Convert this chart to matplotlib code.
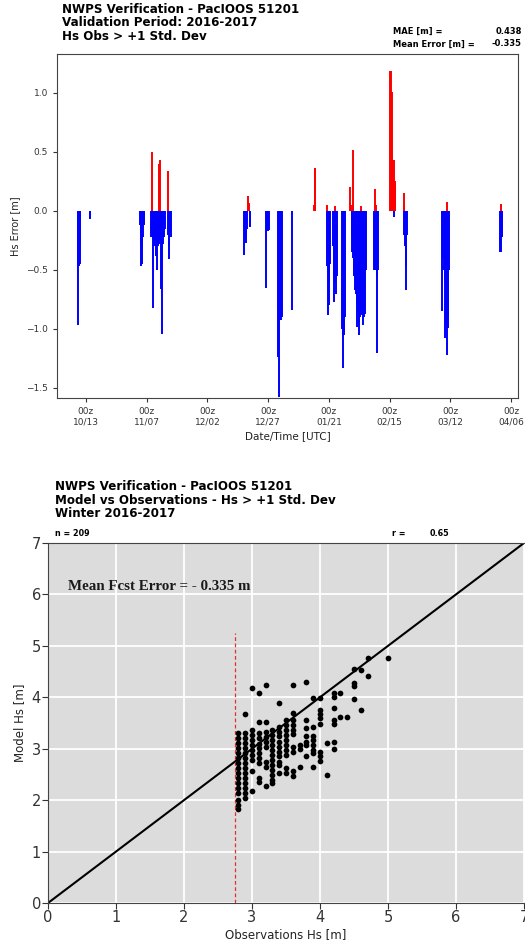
import datetime as dt
import matplotlib
matplotlib.use("Agg")
import matplotlib.pyplot as plt
import matplotlib.dates as mdates

# ---- top panel: Hs error time series (days after 2016-10-13 00z, error in m)
err_days = [
    -3.3, -3.1, -2.9, -2.7, -2.5, -2.3,
    1.5, 1.7,
    22.2, 22.5, 22.7, 22.9, 23.1, 23.4, 23.7, 24.0,
    27.0, 27.3, 30.2, 30.6, 33.9,
    26.8, 27.2, 27.6, 28.0, 28.4, 28.8, 29.1, 29.5, 29.9, 30.3, 30.9, 31.3,
    31.7, 32.1, 32.4, 33.7, 34.0, 34.3, 34.7, 35.0,
    65.1, 65.4, 65.7, 66.0, 66.3, 67.4, 67.7, 66.5, 66.8, 67.1,
    74.3, 74.6, 74.9, 75.2,
    79.1, 79.3, 79.6, 79.9, 80.2, 80.5,
    84.8,
    93.9, 94.2, 94.4,
    99.0, 99.2, 99.5, 99.7, 100.0, 100.2, 100.4,
    102.5, 101.6, 101.9, 102.2, 102.6, 102.8, 103.1, 103.4,
    105.3, 105.6, 105.8, 106.0, 106.3, 106.5,
    108.8, 109.0, 109.9, 110.1, 113.2,
    109.3, 109.6, 109.9, 110.2, 110.5, 110.8, 111.1, 111.4, 111.7, 112.0,
    112.3, 112.5, 112.8, 113.1, 113.4, 113.7, 113.9, 114.2, 114.5, 114.8, 115.1,
    119.1, 119.3, 118.6, 118.9, 119.2, 119.6, 119.9, 120.2,
    125.2, 125.5, 125.8, 126.1, 126.4, 126.7, 127.0, 127.3, 126.6,
    130.8, 131.0, 131.0, 131.3, 131.6, 131.8, 132.1,
    146.5, 146.8, 147.3, 147.6, 147.9, 148.2, 148.5, 148.8, 149.1, 149.4, 148.4,
    170.5, 170.8, 171.1, 171.4, 170.9,
]
err_vals = [
    -0.97, -0.47, -0.47, -0.46, -0.45, -0.30,
    -0.07, -0.06,
    -0.12, -0.28, -0.47, -0.45, -0.30, -0.22, -0.12, -0.10,
    0.50, 0.08, 0.40, 0.43, 0.34,
    -0.22, -0.22, -0.82, -0.30, -0.25, -0.38, -0.50, -0.30, -0.28, -0.25, -0.66, -1.04,
    -0.28, -0.22, -0.15, -0.20, -0.30, -0.41, -0.20, -0.22,
    -0.37, -0.25, -0.27, -0.22, -0.15, -0.13, -0.14, 0.13, 0.08, 0.07,
    -0.65, -0.17, -0.17, -0.16,
    -1.24, -1.58, -0.92, -0.92, -0.92, -0.90,
    -0.84,
    0.05, 0.36, 0.36,
    0.05, -0.47, -0.50, -0.88, -0.60, -0.80, -0.45,
    0.04, -0.30, -0.55, -0.77, -0.60, -0.58, -0.70, -0.55,
    -1.00, -1.05, -1.33, -1.05, -1.03, -0.90,
    0.20, 0.05, 0.52, 0.05, 0.04,
    -0.20, -0.35, -0.40, -0.50, -0.55, -0.67, -0.70, -0.80, -0.98, -0.85,
    -0.95, -1.05, -0.90, -0.85, -0.80, -0.88, -0.97, -0.80, -0.90, -0.87, -0.50,
    0.19, 0.05, -0.50, -0.50, -0.50, -0.55, -1.20, -0.50,
    1.19, 1.19, 1.01, 0.45, 0.43, 0.43, 0.25, 0.24, -0.05,
    0.15, 0.05, -0.20, -0.30, -0.47, -0.67, -0.20,
    -0.85, -0.40, -0.50, -0.60, -1.08, -0.95, -1.22, -0.90, -0.99, -0.50, 0.08,
    -0.35, -0.35, -0.22, -0.22, 0.06,
]
tick_days = [0, 25, 50, 75, 100, 125, 150, 175]
mae = 0.438
mean_err = -0.335

# ---- bottom panel: model vs observed Hs (m)
obs_hs = (
    [2.8] * 16 + [2.9] * 15 + [3.0] * 10 + [3.1] * 11 + [3.2] * 9 + [3.3] * 12
    + [3.4] * 11 + [3.5] * 10 + [3.6] * 10 + [3.7] * 3 + [3.8] * 7 + [3.9] * 8
    + [4.0] * 8 + [4.1] * 2 + [4.2] * 7 + [4.3] * 2 + [4.4] * 1 + [4.5] * 4
    + [4.6] * 2 + [4.7] * 2 + [5.0] * 1
)
model_hs = [
    3.30, 3.20, 3.11, 3.01, 2.91, 2.81, 2.72, 2.62, 2.52, 2.43, 2.33, 2.23, 2.14, 2.00, 1.91, 1.82,
    3.68, 3.30, 3.20, 3.11, 3.01, 2.91, 2.81, 2.72, 2.62, 2.52, 2.43, 2.33, 2.23, 2.14, 2.04,
    4.18, 3.37, 3.27, 3.17, 3.07, 2.98, 2.88, 2.78, 2.56, 2.17,
    4.08, 3.51, 3.30, 3.20, 3.10, 3.01, 2.91, 2.81, 2.72, 2.43, 2.36,
    4.24, 3.51, 3.33, 3.23, 3.13, 3.04, 2.75, 2.65, 2.28,
    3.36, 3.27, 3.17, 3.07, 2.98, 2.88, 2.78, 2.68, 2.59, 2.49, 2.40, 2.33,
    3.89, 3.42, 3.33, 3.24, 3.14, 3.04, 2.94, 2.85, 2.75, 2.68, 2.52,
    3.56, 3.46, 3.37, 3.27, 3.17, 3.07, 2.98, 2.88, 2.62, 2.52,
    4.23, 3.70, 3.56, 3.46, 3.37, 3.29, 3.04, 2.94, 2.56, 2.47,
    3.07, 3.00, 2.65,
    4.29, 3.56, 3.40, 3.24, 3.14, 3.07, 2.86,
    3.98, 3.42, 3.24, 3.16, 3.07, 2.98, 2.91, 2.65,
    3.98, 3.75, 3.68, 3.59, 3.49, 2.94, 2.85, 2.77,
    3.11, 2.49,
    4.08, 4.00, 3.79, 3.56, 3.48, 3.14, 2.99,
    4.09, 3.62,
    3.62,
    4.55, 4.27, 4.21, 3.96,
    4.53, 3.76,
    4.76, 4.42,
    4.76,
]
n_obs = 209
r_val = 0.65
obs_threshold = 2.75
threshold_top = 5.25

W, H = 525, 946
fig = plt.figure(figsize=(W / 100, H / 100), dpi=100)


def fy(ypix):
    return 1 - ypix / H


# ---------------- top panel
base = dt.datetime(2016, 10, 13)
times = [base + dt.timedelta(days=d) for d in err_days]
colors = ['red' if v > 0 else 'blue' for v in err_vals]

ax = fig.add_axes([57 / W, fy(398), 461 / W, 344 / H])
ax.vlines(times, 0, err_vals, colors=colors, linewidth=1.4)
ax.set_xticks([base + dt.timedelta(days=d) for d in tick_days])
ax.xaxis.set_major_formatter(mdates.DateFormatter('%Hz\n%m/%d'))
ax.set_xlim(base - dt.timedelta(days=11.9), base + dt.timedelta(days=177.8))
ax.set_ylim(-1.585, 1.33)
ax.set_yticks([-1.5, -1.0, -0.5, 0.0, 0.5, 1.0])
ax.tick_params(labelsize=6.5, colors='#333333', length=3)
for s in ax.spines.values():
    s.set_color('#444444')
ax.set_ylabel('Hs Error [m]', fontsize=7, color='#222222')
ax.set_xlabel('Date/Time [UTC]', fontsize=7.5, color='#222222', labelpad=3)

fig.text(62 / W, fy(3), 'NWPS Verification - PacIOOS 51201\nValidation Period: 2016-2017\nHs Obs > +1 Std. Dev',
         va='top', ha='left', fontsize=8.6, fontweight='bold', linespacing=1.05)
fig.text(393 / W, fy(31), 'MAE [m] =', fontsize=6, fontweight='bold', va='center')
fig.text(522 / W, fy(31), '%.3f' % mae, fontsize=6, fontweight='bold', va='center', ha='right')
fig.text(393 / W, fy(44), 'Mean Error [m] =', fontsize=6, fontweight='bold', va='center')
fig.text(522 / W, fy(44), '%.3f' % mean_err, fontsize=6, fontweight='bold', va='center', ha='right')

# ---------------- bottom panel
fig.text(55 / W, fy(480), 'NWPS Verification - PacIOOS 51201\nModel vs Observations - Hs > +1 Std. Dev\nWinter 2016-2017',
         va='top', ha='left', fontsize=8.6, fontweight='bold', linespacing=1.05)
fig.text(55 / W, fy(534), 'n = %d' % n_obs, fontsize=5.8, fontweight='bold', va='center')
fig.text(392 / W, fy(534), 'r =', fontsize=5.8, fontweight='bold', va='center')
fig.text(430 / W, fy(534), '%.2f' % r_val, fontsize=5.8, fontweight='bold', va='center')

ax2 = fig.add_axes([48 / W, fy(903), 476 / W, 360 / H])
ax2.set_facecolor('#dcdcdc')
ax2.grid(color='white', linewidth=1.3)
ax2.set_axisbelow(True)
ax2.axline((0, 0), slope=1, color='black', linewidth=1.5, zorder=2)
ax2.vlines(obs_threshold, 0, threshold_top, colors='#e03030', linestyles=(0, (3, 2)), linewidth=0.9, zorder=2)
ax2.scatter(obs_hs, model_hs, s=17, color='black', linewidths=0, zorder=3)
ax2.text(0.29, 6.15, 'Mean Fcst Error = - %.3f m' % abs(mean_err), family='Liberation Serif',
         fontweight='bold', fontsize=10.8, va='center', color='#1a1a1a')
ax2.set_xlim(0, 7)
ax2.set_ylim(0, 7)
ax2.set_xticks(range(8))
ax2.set_yticks(range(8))
ax2.tick_params(labelsize=10.5, colors='#333333', length=4, pad=1)
for s in ax2.spines.values():
    s.set_color('#444444')
ax2.spines['right'].set_visible(False)
ax2.set_xlabel('Observations Hs [m]', fontsize=8.5, color='#222222', labelpad=2)
ax2.set_ylabel('Model Hs [m]', fontsize=8.5, color='#222222', labelpad=4)

fig.savefig('out.png', dpi=100)
